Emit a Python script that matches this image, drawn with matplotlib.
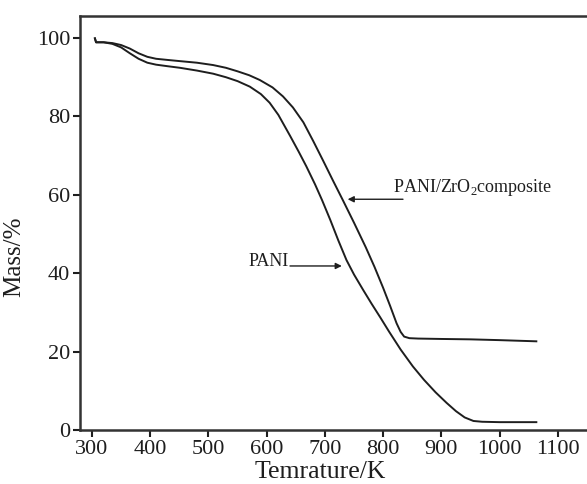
import matplotlib.pyplot as plt

plt.rcParams['font.family'] = ['Liberation Serif', 'DejaVu Serif']
plt.rcParams['mathtext.fontset'] = 'custom'
plt.rcParams['mathtext.rm'] = 'Liberation Serif'

# PANI/ZrO2 composite (upper curve)
temp_comp = [305, 307, 320, 335, 350, 365, 380, 395, 410, 430, 451, 480, 508, 530, 550, 570,
             588, 610, 628, 645, 663, 680, 697, 714, 731, 750, 770, 785, 800, 812, 823, 830,
             836, 845, 860, 900, 950, 1000, 1063]
mass_comp = [99.8, 98.8, 98.8, 98.6, 98.1, 97.2, 96.0, 95.1, 94.6, 94.3, 94.0, 93.6, 93.0, 92.3,
             91.4, 90.4, 89.2, 87.3, 85.0, 82.2, 78.4, 73.6, 68.6, 63.5, 58.5, 52.8, 46.6, 41.6,
             36.2, 31.6, 27.2, 25.0, 23.8, 23.4, 23.3, 23.2, 23.1, 22.9, 22.6]

# PANI (lower curve)
temp_pani = [305, 307, 320, 335, 350, 365, 380, 395, 410, 430, 451, 480, 508, 530, 550, 571,
             590, 605, 620, 640, 655, 668, 683, 695, 709, 723, 737, 750, 766, 780, 795, 810,
             830, 851, 870, 890, 909, 925, 940, 955, 970, 1000, 1063]
mass_pani = [99.8, 98.8, 98.8, 98.4, 97.5, 96.0, 94.6, 93.6, 93.1, 92.7, 92.3, 91.6, 90.8, 89.9,
             88.9, 87.5, 85.6, 83.4, 80.3, 75.0, 70.9, 67.2, 62.6, 58.6, 53.6, 48.3, 43.3, 39.6,
             35.6, 32.2, 28.7, 25.1, 20.5, 16.2, 12.8, 9.6, 6.9, 4.8, 3.2, 2.3, 2.1, 2.0, 2.0]

xticks = [300, 400, 500, 600, 700, 800, 900, 1000, 1100]
yticks = [0, 20, 40, 60, 80, 100]

fig = plt.figure(figsize=(5.87, 4.84), dpi=100)
ax = fig.add_axes([80 / 587, 54 / 484, 1 - 80 / 587, 414 / 484])

c = '#1e1e1e'
ax.plot(temp_comp, mass_comp, color=c, lw=1.4)
ax.plot(temp_pani, mass_pani, color=c, lw=1.4)

ax.set_xlim(279.4, 1150)
ax.set_ylim(0, 105.5)
ax.set_xticks(xticks)
ax.set_yticks(yticks)
ax.tick_params(direction='out', length=5, width=1.5, labelsize=16, colors=c, pad=2)
ax.spines['right'].set_visible(False)
for s in ['left', 'top', 'bottom']:
    ax.spines[s].set_linewidth(1.8)
    ax.spines[s].set_color('#333333')

ax.set_xlabel('Temrature/K', fontsize=18.5, color=c)
ax.xaxis.set_label_coords(0.473, -0.075)
ax.set_ylabel('Mass/%', fontsize=18, color=c)
ax.yaxis.set_label_coords(-0.108, 0.418)

arrow = dict(arrowstyle='-|>', lw=1.0, color=c, mutation_scale=9, shrinkA=0, shrinkB=0)
ax.annotate('', xy=(739, 58.8), xytext=(834, 58.8), arrowprops=arrow)
ax.text(817, 60.6, 'PANI/ZrO$_2$composite', fontsize=13, color=c, va='baseline')
ax.annotate('', xy=(729, 41.8), xytext=(640, 41.8), arrowprops=arrow)
ax.text(568, 41.9, 'PANI', fontsize=13, color=c, va='baseline')

fig.savefig('out.png', dpi=100)
